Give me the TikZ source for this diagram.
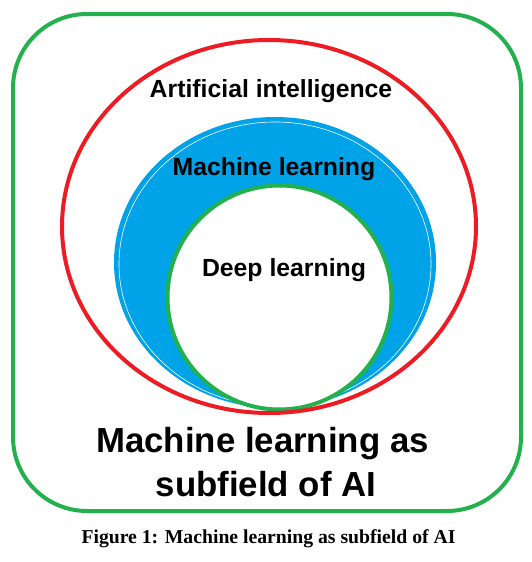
\documentclass[tikz,border=0pt]{standalone}
\usepackage{fontspec}
\setmainfont{Liberation Serif}
\setsansfont{Liberation Sans}
\definecolor{pgreen}{HTML}{22B14C}
\definecolor{pred}{HTML}{ED1C24}
\definecolor{pblue}{HTML}{00A2E8}
\tikzset{
  lbl/.style={font=\sffamily\bfseries\fontsize{24.8}{28}\selectfont, inner sep=0pt, anchor=base},
  biglbl/.style={font=\sffamily\bfseries\fontsize{34.8}{40}\selectfont, inner sep=0pt, anchor=base},
  captxt/.style={font=\rmfamily\bfseries\fontsize{19.7}{23}\selectfont, inner sep=0pt, anchor=base}
}
\begin{document}
\begin{tikzpicture}[x=1pt,y=-1pt]
\useasboundingbox[fill=white] (0,0) rectangle (532,562);
% outer frame
\draw[pgreen, line width=4pt, rounded corners=74pt] (13,14) rectangle (521,511);
% blue ML region
\fill[pblue] (275,262.5) ellipse [x radius=161, y radius=145.5];
\draw[white, line width=0.6pt] (275,264) ellipse [x radius=156, y radius=142];
% deep learning circle
\draw[pgreen, line width=4pt, fill=white] (279.5,297.5) circle [radius=112];
% AI ellipse
\draw[pred, line width=4pt] (269,226.5) ellipse [x radius=207, y radius=186.5];
% labels
\node[lbl] (ai) at (271,97.7) {Artificial intelligence};
\node[lbl] (ml) at (274,175) {Machine learning};
\node[lbl] (dl) at (284,276.7) {Deep learning};
\node[biglbl] (title1) at (262.5,452.3) {Machine learning as};
\node[biglbl] (title2) at (266,496.7) {subfield of AI};
\node[captxt] (caption) at (268.5,543.3) {Figure 1: Machine learning as subfield of AI};
\end{tikzpicture}
\end{document}
